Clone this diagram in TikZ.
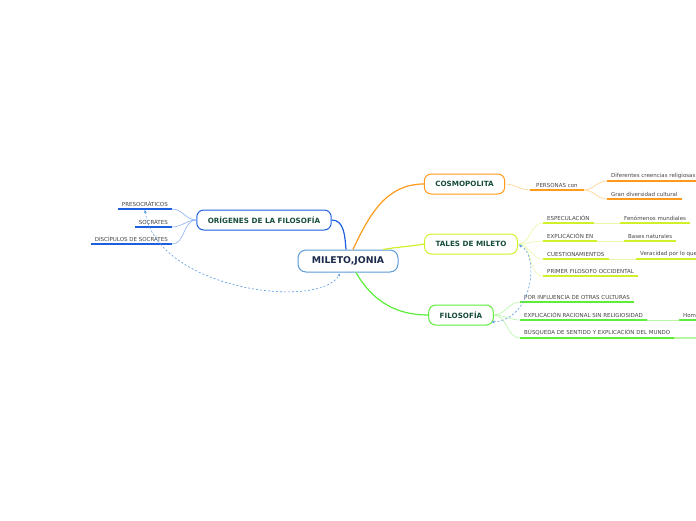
\documentclass[tikz,border=0pt]{standalone}
\usepackage{fontspec}
\setmainfont{DejaVu Sans}
\usetikzlibrary{arrows.meta}

\definecolor{blueln}{HTML}{1E5FE0}
\definecolor{bluelt}{HTML}{8AB0F2}
\definecolor{centrln}{HTML}{5B9BD5}
\definecolor{orangeln}{HTML}{FF9A1A}
\definecolor{orangelt}{HTML}{FFD08A}
\definecolor{yellowln}{HTML}{D2F02A}
\definecolor{yellowlt}{HTML}{E8F8A6}
\definecolor{greenln}{HTML}{5CEE38}
\definecolor{greenlt}{HTML}{B6F5A4}
\definecolor{relln}{HTML}{5A9AE6}
\definecolor{topictxt}{HTML}{174D3C}
\definecolor{centrtxt}{HTML}{1B2A4A}
\definecolor{subtxt}{HTML}{444444}

\tikzset{
  central/.style={draw=centrln, line width=1pt, rounded corners=8pt, fill=white,
    minimum width=100pt, minimum height=22pt, text=centrtxt,
    font=\bfseries\fontsize{9.3}{10}\selectfont},
  topic/.style={draw, line width=1pt, rounded corners=7pt, fill=white,
    minimum height=20pt, inner xsep=11pt, text=topictxt,
    font=\bfseries\fontsize{7.2}{8}\selectfont},
  sub/.style={inner xsep=4pt, inner ysep=2.5pt, text=subtxt,
    font=\fontsize{5.5}{6.5}\selectfont},
  under/.style={line width=1.2pt},
  branch/.style={line width=1.2pt},
  twig/.style={line width=0.6pt},
  relation/.style={relln, line width=0.6pt, dash pattern=on 2pt off 2pt,
    {Stealth[length=3pt,width=3pt]}-{Stealth[length=3pt,width=3pt]}}
}

\begin{document}
\begin{tikzpicture}[x=1pt,y=1pt]
  \useasboundingbox (0,0) rectangle (696,-520);
  \clip (0,0) rectangle (696,-520);

  % main topics
  \node[central] (mileto) at (348,-261) {MILETO,JONIA};
  \node[topic, draw=blueln] (orig) at (264,-220) {ORÍGENES DE LA FILOSOFÍA};
  \node[topic, draw=orangeln] (cosmo) at (464.5,-184) {COSMOPOLITA};
  \node[topic, draw=yellowln] (tales) at (471,-244) {TALES DE MILETO};
  \node[topic, draw=greenln] (filos) at (461,-315) {FILOSOFÍA};

  % subtopics
  \node[sub, anchor=south east] (presoc) at (172,-209) {PRESOCRÁTICOS};
  \node[sub, anchor=south east] (socr) at (172,-227) {SOCRÁTES};
  \node[sub, anchor=south east] (discip) at (172,-244) {DISCÍPULOS DE SOCRÁTES};

  \node[sub, anchor=south west, inner xsep=6pt] (personas) at (530,-190) {PERSONAS con};
  \node[sub, anchor=south west] (creencias) at (607,-181) {Diferentes creencias religiosas};
  \node[sub, anchor=south west] (diversidad) at (607,-199) {Gran diversidad cultural};

  \node[sub, anchor=south west] (espec) at (543,-223) {ESPECULACIÓN};
  \node[sub, anchor=south west] (fenom) at (620,-223) {Fenómenos mundiales};
  \node[sub, anchor=south west] (explic) at (543,-241) {EXPLICACIÓN EN};
  \node[sub, anchor=south west] (bases) at (624,-241) {Bases naturales};
  \node[sub, anchor=south west] (cuest) at (543,-259) {CUESTIONAMIENTOS};
  \node[sub, anchor=south west] (verac) at (636,-259) {Veracidad por lo que};
  \node[sub, anchor=south west] (primer) at (543,-276) {PRIMER FILOSOFO OCCIDENTAL};

  \node[sub, anchor=south west] (influ) at (520,-302) {POR INFLUENCIA DE OTRAS CULTURAS};
  \node[sub, anchor=south west] (racion) at (520,-320) {EXPLICACIÓN RACIONAL SIN RELIGIOSIDAD};
  \node[sub, anchor=south west] (hom) at (679,-320) {Hom};
  \coordinate (homend) at (700,-320);
  \node[sub, anchor=south west] (busq) at (520,-338) {BÚSQUEDA DE SENTIDO Y EXPLICACIÓN DEL MUNDO};
  \coordinate (busqend) at (700,-338);

  % underlines
  \foreach \n in {presoc,socr,discip}
    \draw[under, blueln] (\n.south west) -- (\n.south east);
  \foreach \n in {personas,creencias,diversidad}
    \draw[under, orangeln] (\n.south west) -- (\n.south east);
  \foreach \n in {espec,fenom,explic,bases,cuest,verac,primer}
    \draw[under, yellowln] (\n.south west) -- (\n.south east);
  \foreach \n in {influ,racion,busq}
    \draw[under, greenln] (\n.south west) -- (\n.south east);
  \draw[under, greenln] (hom.south west) -- (homend);

  % branches from the centre
  \draw[branch, blueln] ([xshift=-2pt]mileto.north) to[out=95,in=0] (orig.east);
  \draw[branch, orangeln] ([xshift=5pt]mileto.north) to[out=65,in=180] (cosmo.west);
  \draw[branch, yellowln] ([xshift=35pt]mileto.north) to[out=10,in=190] (tales.west);
  \draw[branch, greenln] ([xshift=8pt]mileto.south) to[out=-60,in=180] (filos.west);

  % twigs
  \foreach \n in {presoc,socr,discip}
    \draw[twig, bluelt] (orig.west) to[out=180,in=0] (\n.south east);
  \draw[twig, orangelt] (cosmo.east) to[out=0,in=180] (personas.south west);
  \foreach \n in {creencias,diversidad}
    \draw[twig, orangelt] (personas.south east) to[out=0,in=180] (\n.south west);
  \foreach \n in {espec,explic,cuest,primer}
    \draw[twig, yellowlt] (tales.east) to[out=0,in=180] (\n.south west);
  \draw[twig, yellowlt] (espec.south east) -- (fenom.south west);
  \draw[twig, yellowlt] (explic.south east) -- (bases.south west);
  \draw[twig, yellowlt] (cuest.south east) -- (verac.south west);
  \foreach \n in {influ,racion,busq}
    \draw[twig, greenlt] (filos.east) to[out=0,in=180] (\n.south west);
  \draw[twig, greenlt] (racion.south east) -- (hom.south west);
  \draw[twig, greenlt, line width=1.2pt] (busq.south east) -- (busqend);

  % relations
  \draw[relation] ([yshift=-1pt]presoc.south) .. controls +(12,-80) and +(-20,-37) .. ([xshift=-8pt,yshift=-1pt]mileto.south);
  \draw[relation] ([xshift=1pt,yshift=-1pt]tales.east) .. controls +(21,-10) and +(41,2) .. ([xshift=-2pt,yshift=-7pt]filos.east);
\end{tikzpicture}
\end{document}
